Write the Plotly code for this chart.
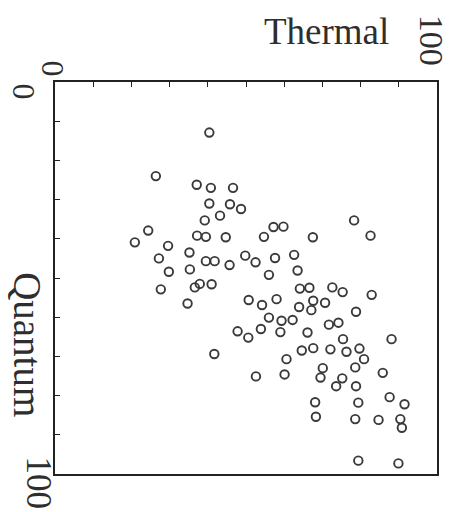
import plotly.graph_objects as go

# Thermal (horizontal, 0..100 left->right) and Quantum (vertical, 0 at top -> 100 at bottom)
thermal = [40.4, 26.4, 37.1, 40.8, 46.6, 40.4, 45.8, 48.7, 43.2, 39.2,
           24.4, 20.9, 37.2, 39.5, 44.7, 54.7, 57.2, 59.8, 78.3, 82.6,
           67.5, 29.6, 35.2, 27.2, 39.5, 41.8, 45.7, 49.8, 52.5, 57.6,
           62.6, 29.8, 35.3, 56.0, 63.5, 27.7, 36.6, 37.9, 41.0, 34.7,
           64.1, 66.6, 72.6, 75.3, 82.9, 50.7, 54.2, 58.0, 63.9, 67.6,
           67.1, 70.7, 78.8, 56.0, 59.3, 62.2, 53.9, 59.0, 66.1, 71.7,
           74.2, 47.8, 50.6, 75.4, 88.1, 41.7, 64.6, 67.6, 72.1, 76.3,
           79.7, 60.6, 80.9, 52.6, 60.1, 70.1, 69.5, 75.2, 73.6, 78.6,
           78.8, 85.8, 87.6, 91.5, 68.1, 79.4, 68.3, 78.6, 84.7, 90.4,
           90.8, 79.4, 89.9]
quantum = [12.9, 24.0, 26.2, 27.0, 27.0, 31.0, 31.2, 32.4, 34.1, 35.3,
           37.9, 40.9, 39.2, 39.5, 39.6, 39.5, 37.0, 36.9, 35.3, 39.2,
           39.6, 41.8, 43.5, 45.0, 45.7, 45.7, 46.7, 44.3, 46.0, 44.9,
           44.1, 48.4, 47.8, 49.2, 48.1, 52.9, 52.4, 51.5, 51.6, 56.5,
           52.7, 52.5, 52.4, 53.6, 54.3, 55.6, 56.9, 55.4, 57.4, 55.8,
           58.2, 56.3, 58.6, 60.1, 60.9, 60.7, 63.0, 63.8, 63.9, 61.9,
           61.4, 63.6, 65.2, 65.6, 65.6, 69.4, 68.5, 67.9, 68.2, 68.8,
           68.0, 70.7, 70.7, 75.1, 74.6, 73.0, 75.4, 75.6, 77.6, 72.8,
           77.6, 74.2, 80.4, 82.2, 81.7, 81.8, 85.4, 86.0, 86.2, 86.0,
           88.2, 96.6, 97.3]

x_title = "Thermal"
y_title = "Quantum"
axis_min_label = "0"
axis_max_label = "100"

FONT = "Liberation Serif, Times New Roman, serif"
INK = "#2e2e2e"

fig = go.Figure()
fig.add_trace(go.Scatter(
    x=thermal, y=quantum, mode="markers",
    marker=dict(symbol="circle-open", size=8.5, color="#3a3a3a",
                line=dict(width=1.9, color="#3a3a3a")),
    showlegend=False, hoverinfo="skip",
))

axis_common = dict(
    showgrid=False, zeroline=False, showline=True, linecolor="#222",
    linewidth=1.5, mirror=True, ticks="inside", ticklen=5, tickwidth=1,
    tickcolor="#222", dtick=10, tick0=0, showticklabels=False,
)
fig.update_xaxes(range=[0, 100], side="top", **axis_common)
fig.update_yaxes(range=[100, 0], **axis_common)

def ann(text, x, y, angle=0, size=36):
    fig.add_annotation(text=text, x=x, y=y, xref="paper", yref="paper",
                       xanchor="center", yanchor="middle", showarrow=False,
                       textangle=angle, font=dict(family=FONT, size=size, color=INK))

ann(x_title, 0.7096, 1.128, 0, 37)
ann(axis_max_label, 0.988, 1.107, 90, 34)
ann(axis_min_label, -0.0066, 1.033, 90, 32)
ann(axis_min_label, -0.080, 0.9745, 90, 32)
ann(y_title, -0.072, 0.330, 90, 39)
ann(axis_max_label, -0.043, -0.023, 90, 35)

fig.update_layout(
    width=450, height=512,
    margin=dict(l=55, r=13, t=82, b=38),
    paper_bgcolor="white", plot_bgcolor="white",
)
fig.write_html("out.html", config={"displayModeBar": False},
               post_script="document.body.style.margin='0';document.body.style.overflow='hidden';")
